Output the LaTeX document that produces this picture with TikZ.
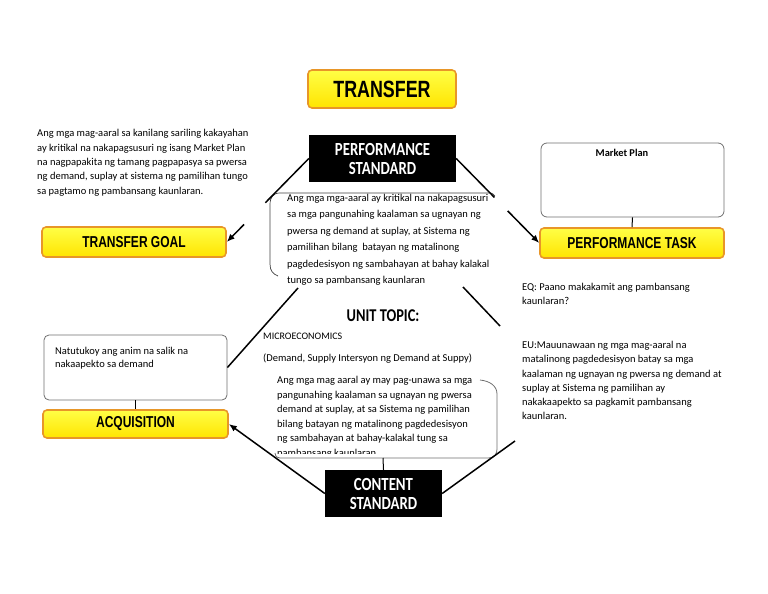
\documentclass[tikz,border=0pt]{standalone}
\usepackage{fontspec}
\setmainfont{Carlito}
\newfontfamily\narrowfont{Liberation Sans}[FakeStretch=0.76]
\newfontfamily\condfont{Carlito}[FakeStretch=0.8]
\usetikzlibrary{arrows.meta,calc}
\definecolor{boxorange}{RGB}{232,150,40}
\definecolor{framegray}{RGB}{110,110,110}
\begin{document}
\begin{tikzpicture}[x=1pt,y=-1pt,
    ybox/.style={draw=boxorange,line width=1.6pt,rounded corners=4pt,
        top color={rgb,255:red,255;green,255;blue,70},bottom color={rgb,255:red,255;green,228;blue,0},
        font=\narrowfont\bfseries\fontsize{15.8}{17}\selectfont,inner sep=0pt},
    bbox/.style={fill=black,text=white,font=\condfont\bfseries\fontsize{18.5}{19}\selectfont,align=center,inner sep=0pt},
    para/.style={font=\fontsize{10.5}{14.3}\selectfont,align=left,inner sep=0pt,anchor=north west},
    frame/.style={draw=framegray,line width=0.8pt,rounded corners=6pt},
    link/.style={line width=1.5pt},
    arr/.style={line width=1.5pt,-{Latex[length=8pt,width=6.5pt]}}]
    \useasboundingbox (0,0) rectangle (768,594);
    % title and the two standards
    \node[ybox,minimum width=148pt,minimum height=38pt,font=\narrowfont\bfseries\fontsize{23.5}{25}\selectfont] (transfer) at (382,89) {TRANSFER};
    \node[bbox,minimum width=147pt,minimum height=47pt] (perfstd) at (382.5,158.5) {PERFORMANCE\\STANDARD};
    \node[bbox,minimum width=117pt,minimum height=47pt] (contentstd) at (383.5,493.5) {CONTENT\\STANDARD};
    % left column
    \node[ybox,minimum width=184pt,minimum height=30pt] (transfergoal) at (134,242) {TRANSFER GOAL};
    \node[para] (goaltext) at (37,129.5) {Ang mga mag-aaral sa kanilang sariling kakayahan\\
        ay kritikal na nakapagsusuri ng isang Market Plan\\
        na nagpapakita ng tamang pagpapasya sa pwersa\\
        ng demand, suplay at sistema ng pamilihan tungo\\
        sa pagtamo ng pambansang kaunlaran.};
    \node[frame,rounded corners=5pt,minimum width=183pt,minimum height=65pt] (natutukoy) at (135.5,367.5) {};
    \node[para,font=\fontsize{10.5}{12.3}\selectfont] (natutext) at (55,347.5) {Natutukoy ang anim na salik na\\
        nakaapekto sa demand};
    \node[ybox,minimum width=185pt,minimum height=28pt] (acquisition) at (135.5,424) {ACQUISITION};
    % right column
    \node[frame,minimum width=183pt,minimum height=74pt] (marketplan) at (632.5,180) {};
    \node[font=\bfseries\fontsize{10.4}{12}\selectfont,anchor=base] (mptitle) at (622,156) {Market Plan};
    \node[ybox,minimum width=184pt,minimum height=30pt] (perftask) at (632,243) {PERFORMANCE TASK};
    \node[para] (eqtext) at (522,283) {EQ: Paano makakamit ang pambansang\\
        kaunlaran?};
    \node[para] (eutext) at (522,341) {EU:Mauunawaan ng mga mag-aaral na\\
        matalinong pagdedesisyon batay sa mga\\
        kaalaman ng ugnayan ng pwersa ng demand at\\
        suplay at Sistema ng pamilihan ay\\
        nakakaapekto sa pagkamit pambansang\\
        kaunlaran.};
    % middle
    \node[para,font=\fontsize{10.5}{16.4}\selectfont] (pstext) at (287,194) {Ang mga mga-aaral ay kritikal na nakapagsusuri\\
        sa mga pangunahing kaalaman sa ugnayan ng\\
        pwersa ng demand at suplay, at Sistema ng\\
        pamilihan bilang\ \ batayan ng matalinong\\
        pagdedesisyon ng sambahayan at bahay kalakal\\
        tungo sa pambansang kaunlaran};
    \draw[black!75,line width=0.7pt] (495,196) .. controls (492,193) .. (488,193) -- (280,193)
        .. controls (273,193) and (270,197) .. (270,205) -- (270,264) .. controls (270,271) and (273,274) .. (278,276);
    \node[font=\condfont\bfseries\fontsize{18}{20}\selectfont,inner sep=0pt] (unittopic) at (383,316) {UNIT TOPIC:};
    \node[font=\fontsize{10}{11}\selectfont,anchor=base west,inner sep=0pt] (micro) at (263,339) {MICROECONOMICS};
    \node[font=\fontsize{10.5}{12}\selectfont,anchor=base west,inner sep=0pt] (demand) at (263,361) {(Demand, Supply Intersyon ng Demand at Suppy)};
    \begin{scope}
        \clip (0,0) rectangle (768,453);
        \node[para,font=\fontsize{10.5}{14.5}\selectfont] (cttext) at (277,376.5) {Ang mga mag aaral ay may pag-unawa sa mga\\
            pangunahing kaalaman sa ugnayan ng pwersa\\
            demand at suplay, at sa Sistema ng pamilihan\\
            bilang batayan ng matalinong pagdedesisyon\\
            ng sambahayan at bahay-kalakal tung sa\\
            pambansang kaunlaran};
    \end{scope}
    \draw[framegray,line width=0.8pt] (275,453) .. controls (276,457) .. (280,458) -- (487,458)
        .. controls (495,458) and (497,455) .. (497,447) -- (497,394) .. controls (497,386) and (490,381) .. (480,380);
    % connectors
    \draw[link] (perfstd.west) -- ($(perfstd.west)!.53!(transfergoal.east)$);
    \draw[arr] ($(perfstd.west)!.79!(transfergoal.east)$) -- (transfergoal.east);
    \draw[link] (perfstd.east) -- ($(perfstd.east)!.46!(perftask.west)$);
    \draw[arr] ($(perfstd.east)!.62!(perftask.west)$) -- (perftask.west);
    \coordinate (tl) at (298,288);
    \coordinate (tra) at (463,287);
    \coordinate (trb) at (500,326);
    \coordinate (br) at (515,441);
    \coordinate (ctbottom) at (383,458);
    \draw[link] (tl) -- (natutukoy.east);
    \draw[link] (tra) -- (trb);
    \draw[link] (contentstd.east) -- (br);
    \draw[arr] (contentstd.west) -- (acquisition.east);
    \draw[line width=1pt] (marketplan.south) -- (perftask.north);
    \draw[line width=1pt] (natutukoy.south) -- (acquisition.north);
    \draw[line width=1pt] (ctbottom) -- (contentstd.north);
\end{tikzpicture}
\end{document}
